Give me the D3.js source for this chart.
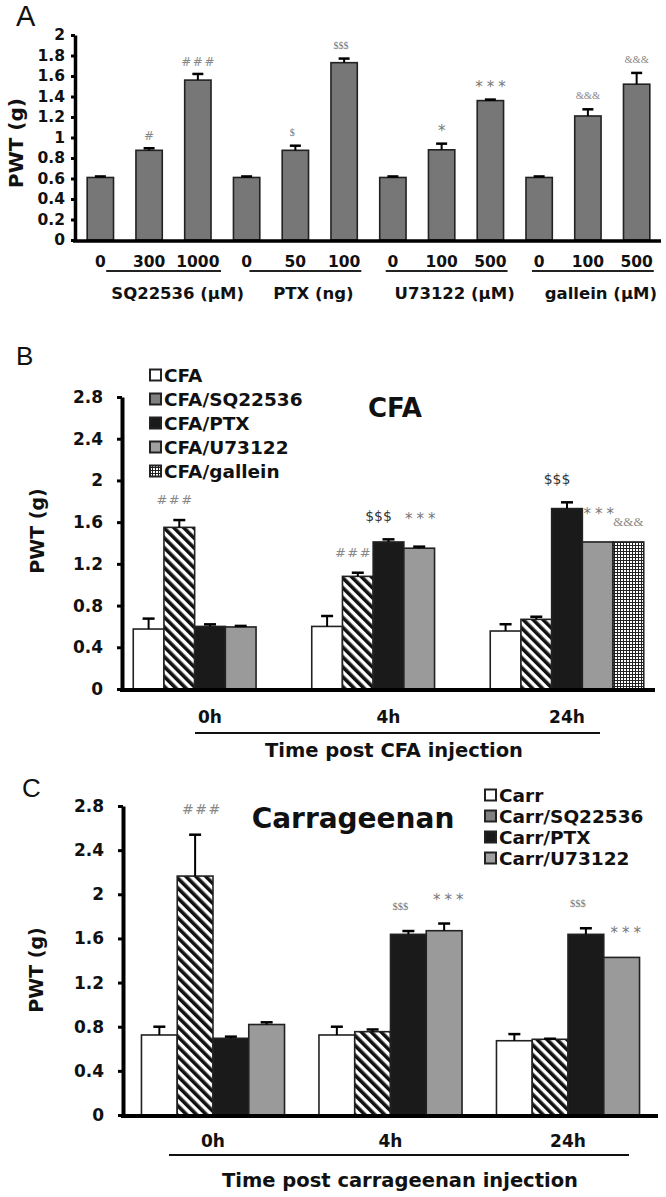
<!DOCTYPE html>
<html><head><meta charset="utf-8">
<script src="https://cdn.jsdelivr.net/npm/d3@7"></script>
<style>body{margin:0;background:#fff}svg{display:block}</style>
</head><body>
<svg id="chart" width="666" height="1197"></svg>
<script>
// ---------- Panel A data ----------
const doseLabels = ["0","300","1000","0","50","100","0","100","500","0","100","500"];
const doseValues = [0.61,0.875,1.56,0.61,0.875,1.73,0.61,0.88,1.36,0.61,1.21,1.52];
const doseErrors = [0.01,0.02,0.06,0.01,0.045,0.04,0.01,0.06,0.01,0.01,0.065,0.11];
const doseMarks  = ["","#","###","","$","$$$","","*","***","","&&&","&&&"];
const drugGroups = ["SQ22536 (μM)","PTX (ng)","U73122 (μM)","gallein (μM)"];
const doseTicks  = [0,0.2,0.4,0.6,0.8,1,1.2,1.4,1.6,1.8,2];

// ---------- Panel B data (per series, over timeLabels) ----------
const timeLabels = ["0h","4h","24h"];
const cfaSeries  = ["CFA","CFA/SQ22536","CFA/PTX","CFA/U73122","CFA/gallein"];
const cfaValues  = [[0.575,0.60,0.556],[1.55,1.08,0.668],[0.60,1.41,1.73],[0.595,1.35,1.41],[null,null,1.41]];
const cfaErrors  = [[0.10,0.10,0.065],[0.07,0.035,0.025],[0.02,0.025,0.06],[0.01,0.015,0],[null,null,0]];
const cfaMarks   = [["","",""],["###","###",""],["","$$$","$$$"],["","***","***"],["","","&&&"]];
const pwtTicks   = [0,0.4,0.8,1.2,1.6,2,2.4,2.8];

// ---------- Panel C data ----------
const carrSeries = ["Carr","Carr/SQ22536","Carr/PTX","Carr/U73122"];
const carrValues = [[0.725,0.725,0.673],[2.165,0.755,0.686],[0.695,1.637,1.637],[0.82,1.67,1.428]];
const carrErrors = [[0.075,0.075,0.06],[0.375,0.02,0.005],[0.015,0.03,0.055],[0.02,0.065,0]];
const carrMarks  = [["","",""],["###","",""],["","$$$","$$$"],["","***","***"]];

const svg = d3.select("#chart");
const SANS = "'DejaVu Sans', Verdana, sans-serif";
const SERIF = "'Liberation Serif', 'DejaVu Serif', serif";
const LETTER = "'Liberation Sans', Arial, sans-serif";

// ---------- patterns ----------
const defs = svg.append("defs");
const hatch = defs.append("pattern").attr("id","hatch").attr("patternUnits","userSpaceOnUse")
  .attr("width",7).attr("height",7).attr("patternTransform","rotate(-45)");
hatch.append("rect").attr("width",7).attr("height",7).attr("fill","#fff");
hatch.append("rect").attr("width",3.6).attr("height",7).attr("fill","#111");
const grid = defs.append("pattern").attr("id","grid").attr("patternUnits","userSpaceOnUse")
  .attr("width",3).attr("height",3);
grid.append("rect").attr("width",3).attr("height",3).attr("fill","#222");
grid.append("rect").attr("width",2).attr("height",2).attr("fill","#fff");

const markStyle = {
  A: {"#":{size:12,fill:"#888",font:SANS,ls:1.5,extra:0,dx:0}, "$":{size:10,fill:"#777",font:SERIF,ls:0,extra:2,dx:-3},
      "*":{size:15,fill:"#777",font:SANS,ls:4,extra:0,dx:0}, "&":{size:10.5,fill:"#888",font:SERIF,ls:0,extra:2,dx:0}},
  B: {"#":{size:13,fill:"#888",font:SANS,ls:1.5,extra:0,dx:-5}, "$":{size:14,fill:"#333",font:SANS,ls:0,extra:2,dx:-10},
      "*":{size:15,fill:"#777",font:SANS,ls:4,extra:7,dx:1}, "&":{size:13,fill:"#888",font:SERIF,ls:0,extra:0,dx:0}},
  C: {"#":{size:14,fill:"#888",font:SANS,ls:1.5,extra:2,dx:6}, "$":{size:10.5,fill:"#777",font:SERIF,ls:0,extra:2,dx:-8},
      "*":{size:15,fill:"#777",font:SANS,ls:4,extra:0,dx:4}, "&":{size:12,fill:"#888",font:SERIF,ls:0,extra:0,dx:0}}
};

function drawMark(g, txt, cx, yTop, panel, gap) {
  if (!txt) return;
  const st = markStyle[panel][txt[0]];
  g.append("text").attr("x", cx + st.ls/2 + st.dx).attr("y", yTop - gap - st.extra)
    .attr("text-anchor","middle").attr("font-family",st.font).attr("font-size",st.size)
    .attr("letter-spacing",st.ls).attr("fill",st.fill).text(txt);
}

function yAxis(g, y, ticks, xPos, fontSize, tickSize, pad, width) {
  const ax = g.append("g").attr("transform",`translate(${xPos},0)`)
    .call(d3.axisLeft(y).tickValues(ticks).tickFormat(d => String(d))
      .tickSize(tickSize).tickSizeOuter(0).tickPadding(pad));
  ax.select(".domain").attr("stroke","#000").attr("stroke-width",width);
  ax.selectAll(".tick line").attr("stroke","#000").attr("stroke-width",3);
  ax.selectAll(".tick text").attr("font-family",SANS).attr("font-weight","bold")
    .attr("font-size",fontSize).attr("fill","#111");
}

function errBar(g, cx, y0, y1, cap) {
  g.append("line").attr("x1",cx).attr("x2",cx).attr("y1",y0).attr("y2",y1)
    .attr("stroke","#000").attr("stroke-width",2);
  g.append("line").attr("x1",cx-cap/2).attr("x2",cx+cap/2).attr("y1",y1).attr("y2",y1)
    .attr("stroke","#000").attr("stroke-width",2.5);
}

function yLabel(cx, cy, size) {
  svg.append("text").attr("transform",`translate(${cx},${cy}) rotate(-90)`)
    .attr("text-anchor","middle").attr("dy","0.35em").attr("font-family",SANS)
    .attr("font-weight","bold").attr("font-size",size).attr("fill","#111").text("PWT (g)");
}

// ================= Panel A =================
{
  const g = svg.append("g");
  const y = d3.scaleLinear().domain([0,2]).range([240,35]);
  const x = d3.scaleBand().domain(d3.range(doseValues.length)).range([75,662])
    .paddingInner(0.46).paddingOuter(0.25);
  const bw = x.bandwidth();
  doseValues.forEach((v,i) => {
    g.append("rect").attr("x",x(i)).attr("y",y(v)).attr("width",bw).attr("height",y(0)-y(v))
      .attr("fill","#777").attr("stroke","#222").attr("stroke-width",1.6);
    const top = y(v + doseErrors[i]);
    errBar(g, x(i)+bw/2, y(v), top, 11);
    drawMark(g, doseMarks[i], x(i)+bw/2, top, "A", 8);
  });
  yAxis(g, y, doseTicks, 75, 15.5, 4, 6, 3.5);
  g.append("line").attr("x1",73).attr("x2",661).attr("y1",y(0)+1).attr("y2",y(0)+1)
    .attr("stroke","#000").attr("stroke-width",3.5);
  doseLabels.forEach((t,i) => {
    g.append("text").attr("x",x(i)+bw/2).attr("y",267).attr("text-anchor","middle")
      .attr("font-family",SANS).attr("font-weight","bold").attr("font-size",15.5)
      .attr("fill","#111").text(t);
  });
  drugGroups.forEach((t,k) => {
    const x1 = x(3*k)+ (k===0 ? 19 : (k===1 ? 16 : 6)), x2 = x(3*k+2)+bw+ (k===0 ? 10 : 4);
    g.append("line").attr("x1",x1).attr("x2",x2).attr("y1",271).attr("y2",271)
      .attr("stroke","#222").attr("stroke-width",2);
    g.append("text").attr("x",(x1+x2)/2 + (k===0 ? 14 : 8)).attr("y",299).attr("text-anchor","middle")
      .attr("font-family",SANS).attr("font-weight","bold").attr("font-size",16.5)
      .attr("fill","#111").text(t);
  });
  yLabel(16, 143, 20);
  svg.append("text").attr("x",16).attr("y",26).attr("font-family",LETTER)
    .attr("font-size",29).attr("fill","#111").text("A");
}

// ================= grouped panels =================
function groupedPanel(cfg) {
  const g = svg.append("g");
  const y = d3.scaleLinear().domain([0,2.8]).range([cfg.y0, cfg.yTop]);
  const x0 = d3.scaleBand().domain(timeLabels).range([cfg.xL, cfg.xR])
    .paddingInner(cfg.pi).paddingOuter(cfg.po);
  const x1 = d3.scaleBand().domain(d3.range(cfg.series.length)).range([0, x0.bandwidth()]);
  const bw = x1.bandwidth();
  cfg.series.forEach((s, si) => {
    timeLabels.forEach((t, ti) => {
      const v = cfg.values[si][ti];
      if (v == null) return;
      const bx = x0(t) + x1(si);
      g.append("rect").attr("x",bx).attr("y",y(v)).attr("width",bw).attr("height",y(0)-y(v))
        .attr("fill",cfg.fills[si]).attr("stroke","#222").attr("stroke-width",1.6);
      const e = cfg.errors[si][ti] || 0;
      const top = y(v + e);
      if (e > 0) errBar(g, bx+bw/2, y(v), top, 12);
      drawMark(g, cfg.marks[si][ti], bx+bw/2, top, cfg.panel, cfg.gap);
    });
  });
  yAxis(g, y, pwtTicks, cfg.xL, 17, 5, 14, 4);
  g.append("line").attr("x1",cfg.xL-2).attr("x2",cfg.xR).attr("y1",y(0)+1).attr("y2",y(0)+1)
    .attr("stroke","#000").attr("stroke-width",4);
  timeLabels.forEach(t => {
    g.append("text").attr("x",x0(t)+x0.bandwidth()/2).attr("y",cfg.catY).attr("text-anchor","middle")
      .attr("font-family",SANS).attr("font-weight","bold").attr("font-size",17)
      .attr("fill","#111").text(t);
  });
  const c0 = x0(timeLabels[0]) + x0.bandwidth()/2, c2 = x0(timeLabels[2]) + x0.bandwidth()/2;
  g.append("line").attr("x1",c0+cfg.ulL).attr("x2",c2+cfg.ulR).attr("y1",cfg.ulY).attr("y2",cfg.ulY)
    .attr("stroke","#111").attr("stroke-width",2);
  g.append("text").attr("x",cfg.titleX).attr("y",cfg.titleY).attr("text-anchor","middle")
    .attr("font-family",SANS).attr("font-weight","bold").attr("font-size",19.5)
    .attr("fill","#111").text(cfg.xTitle);
  // legend
  cfg.series.forEach((s, si) => {
    const ly = cfg.legY + si*cfg.legStep;
    g.append("rect").attr("x",cfg.legX).attr("y",ly-5.5).attr("width",11).attr("height",11)
      .attr("fill",cfg.legFills[si]).attr("stroke","#222").attr("stroke-width",2);
    g.append("text").attr("x",cfg.legX+14).attr("y",ly).attr("dy","0.36em")
      .attr("font-family",SANS).attr("font-weight","bold").attr("font-size",18.5)
      .attr("fill","#111").text(s);
  });
  g.append("text").attr("x",cfg.headX).attr("y",cfg.headY).attr("text-anchor","middle")
    .attr("font-family",SANS).attr("font-weight","bold").attr("font-size",cfg.headSize)
    .attr("fill","#111").text(cfg.head);
}

groupedPanel({
  panel:"B", series:cfaSeries, values:cfaValues, errors:cfaErrors, marks:cfaMarks,
  fills:["#fff","url(#hatch)","#1a1a1a","#9a9a9a","url(#grid)"],
  legFills:["#fff","#808080","#1a1a1a","#a0a0a0","url(#grid)"],
  y0:689, yTop:397, xL:122, xR:655, pi:0.14, po:0.063, gap:16,
  catY:723, ulL:-15, ulR:33, ulY:733, titleX:394, titleY:757, xTitle:"Time post CFA injection",
  legX:150, legY:375, legStep:24, head:"CFA", headX:395, headY:417, headSize:26
});
svg.append("text").attr("x",16).attr("y",365).attr("font-family",LETTER)
  .attr("font-size",26).attr("fill","#111").text("B");
yLabel(37, 531, 19);

groupedPanel({
  panel:"C", series:carrSeries, values:carrValues, errors:carrErrors, marks:carrMarks,
  fills:["#fff","url(#hatch)","#1a1a1a","#9a9a9a"],
  legFills:["#fff","#808080","#1a1a1a","#a0a0a0"],
  y0:1115, yTop:806, xL:123, xR:658, pi:0.194, po:0.104, gap:19,
  catY:1147, ulL:-44, ulR:61, ulY:1155, titleX:400, titleY:1187, xTitle:"Time post carrageenan injection",
  legX:485, legY:795, legStep:21, head:"Carrageenan", headX:353, headY:828, headSize:28
});
svg.append("text").attr("x",22).attr("y",797).attr("font-family",LETTER)
  .attr("font-size",26).attr("fill","#111").text("C");
yLabel(36, 970, 19);
</script>
</body></html>
